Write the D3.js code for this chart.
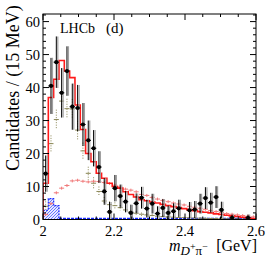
<!DOCTYPE html>
<html>
<head>
<meta charset="utf-8">
<script src="https://cdn.jsdelivr.net/npm/d3@7"></script>
<style>
  body { margin: 0; background: #fff; }
  text { font-family: "Liberation Serif", "Times New Roman", serif; }
</style>
</head>
<body>
<div id="chart"></div>
<script>
// 15 MeV bins from 2.0 to 2.6 GeV
const binLow = d3.range(40).map(i => 2.0 + 0.015 * i);

// data points (black)
const dataVals = [13.9, 40.5, 47.7, 38.4, 45.0, 34.2, 33.8, 28.8, 24.0, 21.6,
                  15.9, 8.5, 2.3, 9.5, 7.1, 5.4, 2.0, 4.9, 6.6, 3.3,
                  4.8, 1.8, 3.5, 2.0, 2.5, 3.4, null, 2.8, 3.0, 4.8,
                  6.5, 5.1, 6.8, 2.9, null, 0.5, null, null, 0.5, null];
const dataErr = [5.5, 8.5, 7.8, 7.5, 7.5, 7.0, 7.0, 6.5, 6.0, 5.5,
                 4.8, 4.0, 3.0, 4.0, 3.5, 3.2, 2.5, 3.0, 3.3, 2.7,
                 3.0, 2.2, 2.7, 2.2, 2.4, 2.6, null, 2.5, 2.6, 3.0,
                 3.3, 3.0, 3.3, 2.5, null, 1.0, null, null, 1.0, null];

// total (red histogram)
const totalVals = [11, 37, 42.5, 48.2, 45, 43, 34.7, 27.3, 20, 17.5,
                   14, 12.5, 11, 10, 9.5, 8.4, 7.6, 6.8, 6.0, 5.7,
                   5.3, 5.0, 4.6, 4.2, 3.9, 3.6, 3.3, 3.0, 2.7, 2.4,
                   2.2, 2.0, 1.7, 1.5, 1.3, 1.1, 0.9, 0.7, 0.5, 0.3];

// light red crosses
const pinkVals = [1.5, 4.8, 8.1, 9.5, 10.3, 11.7, 11.9, 11.6, 11.4, 11.6,
                  11.5, 11.2, 10.9, 10.4, 9.8, 9.2, 8.9, 8.4, 7.6, 7.3,
                  6.7, 6.2, 5.8, 5.4, 5.0, 4.7, 4.4, 4.0, 3.7, 3.4,
                  3.1, 2.7, 2.4, 2.1, 1.8, 1.6, 1.4, 1.2, 1.0, 0.8];

// olive crosses
const oliveVals = [4, 23, 30.3, 35.9, 33.6, 33.5, 27.1, 20.8, 14, 11,
                   8.5, 5.6, 4.5, 4.2, 3.6, 2.9, 2.3, 1.9, 1.6, 1.4,
                   1.2, 1.0, 0.9, 0.8, 0.7, 0.6, 0.55, 0.5, 0.45, 0.4,
                   0.35, 0.3, 0.3, 0.25, 0.2, 0.2, 0.15, 0.1, 0.1, 0.1];
const oliveErr = [1.5, 2.5, 3, 3, 3, 3, 2.8, 2.5, 2, 1.8,
                  1.5, 1.2, 1, 1, 0.8, 0.8, 0.6, 0.6, 0.5, 0.5,
                  0.4, 0.4, 0.4, 0.3, 0.3, 0.3, 0.3, 0.3, 0.3, 0.3,
                  0.2, 0.2, 0.2, 0.2, 0.2, 0.2, 0.2, 0.2, 0.2, 0.2];

// blue hatched component
const blueVals = [2.8, 6.3, 4.2, 0.25, 0.25, 0.25, 0.25, 0.25, 0.25, 0.25,
                  0.25, 0.25, 0.25, 0.25, 0.25, 0.25, 0.25, 0.25, 0.25, 0.25,
                  0.25, 0.25, 0.25, 0.25, 0.25, 0.25, 0.25, 0.25, 0.25, 0.25,
                  0.25, 0.25, 0.25, 0.25, 0.25, 0.25, 0.25, 0.25, 0.25, 0.25];

const xTicks = [2, 2.2, 2.4, 2.6];
const yTicks = [0, 10, 20, 30, 40, 50, 60];

const W = 270, H = 262;
const margin = {top: 14, right: 14, bottom: 42, left: 43};
const binW = 0.015;

const svg = d3.select("#chart").append("svg")
  .attr("width", W)
  .attr("height", H);

const x = d3.scaleLinear().domain([2, 2.6]).range([margin.left, W - margin.right]);
const y = d3.scaleLinear().domain([0, 62.3]).range([H - margin.bottom - 0.5, margin.top]);

const defs = svg.append("defs");
const pat = defs.append("pattern")
  .attr("id", "hatch")
  .attr("patternUnits", "userSpaceOnUse")
  .attr("width", 3).attr("height", 3);
pat.append("rect").attr("width", 3).attr("height", 3).attr("fill", "#e6e9ff");
pat.append("path").attr("d", "M-1,1 L1,-1 M0,3 L3,0 M2,4 L4,2")
  .attr("stroke", "#4a5aff").attr("stroke-width", 0.8);

const clip = defs.append("clipPath").attr("id", "plotclip");
clip.append("rect").attr("x", x(2)).attr("y", y.range()[1])
  .attr("width", x(2.6) - x(2)).attr("height", y(0) - y.range()[1]);

const plot = svg.append("g").attr("clip-path", "url(#plotclip)");

// blue hatched peak (first three bins)
const bluePts = [];
for (let i = 0; i < 3; i++) bluePts.push([binLow[i], blueVals[i]]);
bluePts.push([binLow[3], blueVals[2]]);
plot.append("path")
  .attr("d", d3.area().curve(d3.curveStepAfter)
    .x(d => x(d[0])).y0(y(0)).y1(d => y(d[1]))(bluePts))
  .attr("fill", "url(#hatch)")
  .attr("stroke", "#1a2cff")
  .attr("stroke-width", 1.2)
  .attr("stroke-dasharray", "2,1");

// blue tail along the bottom
const blueTail = [];
for (let i = 3; i < 40; i++) blueTail.push([binLow[i], blueVals[i]]);
blueTail.push([2.6, blueVals[39]]);
plot.append("path")
  .attr("d", d3.line().curve(d3.curveStepAfter).x(d => x(d[0])).y(d => y(d[1]))(blueTail))
  .attr("fill", "none")
  .attr("stroke", "#1a2cff")
  .attr("stroke-width", 2)
  .attr("stroke-dasharray", "3,1");

// olive crosses
const olive = plot.append("g").attr("stroke", "#8a8655").attr("stroke-width", 1);
oliveVals.forEach((v, i) => {
  const cx = x(binLow[i] + binW / 2);
  olive.append("line")
    .attr("x1", cx).attr("x2", cx)
    .attr("y1", y(v + oliveErr[i])).attr("y2", y(Math.max(0, v - oliveErr[i])))
    .attr("stroke-dasharray", "1,1.5");
  olive.append("line")
    .attr("x1", cx - 2.5).attr("x2", cx + 2.5)
    .attr("y1", y(v)).attr("y2", y(v));
});

// light red crosses
const pink = plot.append("g").attr("stroke", "#f07a7a").attr("stroke-width", 1);
pinkVals.forEach((v, i) => {
  const cx = x(binLow[i] + binW / 2);
  pink.append("line")
    .attr("x1", cx).attr("x2", cx)
    .attr("y1", y(v) - 1.5).attr("y2", y(v) + 1.5);
  pink.append("line")
    .attr("x1", cx - 2.5).attr("x2", cx + 2.5)
    .attr("y1", y(v)).attr("y2", y(v));
});

// red total histogram
const redPts = [[2.0, 0]];
totalVals.forEach((v, i) => redPts.push([binLow[i], v]));
redPts.push([2.6, totalVals[39]]);
plot.append("path")
  .attr("d", d3.line().curve(d3.curveStepAfter).x(d => x(d[0])).y(d => y(d[1]))(redPts))
  .attr("fill", "none")
  .attr("stroke", "#ff1a1a")
  .attr("stroke-width", 1.6);

// data points
const pts = plot.append("g");
dataVals.forEach((v, i) => {
  if (v === null) return;
  const cx = x(binLow[i] + binW / 2);
  const e = dataErr[i];
  pts.append("line")
    .attr("x1", cx + 1.5).attr("x2", cx + 1.5)
    .attr("y1", y(v + e)).attr("y2", y(v - e))
    .attr("stroke", "#a0a0a0").attr("stroke-width", 1.2);
  pts.append("line")
    .attr("x1", cx).attr("x2", cx)
    .attr("y1", y(v + e)).attr("y2", y(v - e))
    .attr("stroke", "#000").attr("stroke-width", 1);
  pts.append("line")
    .attr("x1", cx - 2.7).attr("x2", cx + 2.7)
    .attr("y1", y(v)).attr("y2", y(v))
    .attr("stroke", "#000").attr("stroke-width", 1);
  pts.append("circle")
    .attr("cx", cx).attr("cy", y(v)).attr("r", 2.1)
    .attr("fill", "#000");
});

// frame and ticks (inward on all sides)
const x0 = x(2), x1 = x(2.6), yb = y(0), yt = y.range()[1];
const frame = svg.append("g").attr("stroke", "#000").attr("stroke-width", 1).attr("fill", "none");
frame.append("rect").attr("x", x0).attr("y", yt).attr("width", x1 - x0).attr("height", yb - yt);

d3.range(2, 2.6001, 0.05).forEach(t => {
  const major = xTicks.some(m => Math.abs(m - t) < 1e-6);
  const len = major ? 6 : 3;
  frame.append("line").attr("x1", x(t)).attr("x2", x(t)).attr("y1", yb).attr("y2", yb - len);
  frame.append("line").attr("x1", x(t)).attr("x2", x(t)).attr("y1", yt).attr("y2", yt + len);
});
d3.range(0, 62.3, 2).forEach(t => {
  const major = t % 10 === 0;
  const len = major ? 6 : 3;
  frame.append("line").attr("x1", x0).attr("x2", x0 + len).attr("y1", y(t)).attr("y2", y(t));
  frame.append("line").attr("x1", x1).attr("x2", x1 - len).attr("y1", y(t)).attr("y2", y(t));
});

// tick labels
svg.append("g").selectAll("text").data(xTicks).enter().append("text")
  .attr("x", d => x(d)).attr("y", 235.5)
  .attr("text-anchor", "middle")
  .attr("font-size", 14.5)
  .text(d => d3.format("~g")(d));

svg.append("g").selectAll("text").data(yTicks).enter().append("text")
  .attr("x", 40).attr("y", d => y(d) + 5)
  .attr("text-anchor", "end")
  .attr("font-size", 14.5)
  .text(d => d);

// axis titles
svg.append("text")
  .attr("transform", "translate(18.5,88) rotate(-90)")
  .attr("text-anchor", "middle")
  .attr("font-size", 18)
  .text("Candidates / (15 MeV)");

const xl = svg.append("text").attr("y", 251).attr("font-size", 16);
xl.append("tspan").attr("x", 169).attr("font-style", "italic").text("m");
xl.append("tspan").attr("font-style", "italic").attr("font-size", 13).attr("dy", 4).text("D");
xl.append("tspan").attr("font-size", 10).attr("dy", -5).text("+");
xl.append("tspan").attr("font-size", 13).attr("dy", 5).text("π");
xl.append("tspan").attr("font-size", 10).attr("dy", -5).text("−");
svg.append("text")
  .attr("x", 257).attr("y", 251)
  .attr("text-anchor", "end")
  .attr("font-size", 16)
  .text("[GeV]");

svg.append("text").attr("x", 60).attr("y", 33).attr("font-size", 14).text("LHCb");
svg.append("text").attr("x", 106).attr("y", 33).attr("font-size", 15).text("(d)");
</script>
</body>
</html>
